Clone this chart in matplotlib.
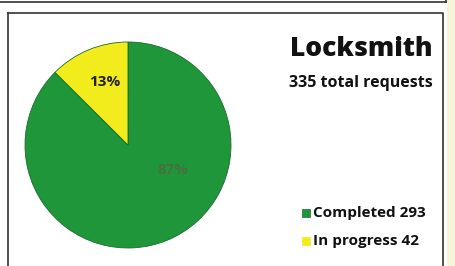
import matplotlib
matplotlib.use("Agg")
import matplotlib.pyplot as plt
from matplotlib.lines import Line2D
from matplotlib.patches import Rectangle

# data
categories = ["Completed", "In progress"]
counts = [293, 42]
colors = ["#20963a", "#f2ec1c"]
title = "Locksmith"
subtitle = f"{sum(counts)} total requests"

W, H = 455, 266
FONT = "Open Sans"
fig = plt.figure(figsize=(W / 100, H / 100), dpi=100)
fig.patch.set_facecolor("white")

# scanned page frame
fig.add_artist(Rectangle((447 / W, 0), 8 / W, 1, transform=fig.transFigure,
                         facecolor="#f6f5d8", edgecolor="none"))
fig.add_artist(Line2D([0, 446 / W], [1 - 2 / H, 1 - 2 / H], transform=fig.transFigure,
                      color="#333333", lw=1.2))
fig.add_artist(Line2D([446 / W, 446 / W], [1 - 2 / H, 1], transform=fig.transFigure,
                      color="#333333", lw=1.2))
fig.add_artist(Line2D([8 / W, 443 / W, 443 / W], [1 - 13 / H, 1 - 13 / H, 0],
                      transform=fig.transFigure, color="#333333", lw=1.2))
fig.add_artist(Line2D([8 / W, 8 / W], [1 - 13 / H, 0], transform=fig.transFigure,
                      color="#333333", lw=1.2))

# pie
ax = fig.add_axes([25 / W, 18 / H, 206 / W, 206 / H])
wedges, texts, autotexts = ax.pie(
    counts, colors=colors, startangle=90, counterclock=False,
    autopct="%1.0f%%", pctdistance=0.65,
    wedgeprops=dict(edgecolor="#1b6b2c", linewidth=0.6),
    textprops=dict(family=FONT, fontweight="bold", fontsize=11),
)
autotexts[0].set_position((0.44, -0.24))
autotexts[0].set_color("#46703f")
autotexts[1].set_position((-0.23, 0.61))
autotexts[1].set_color("#222222")
ax.set_xlim(-1, 1)
ax.set_ylim(-1, 1)
ax.set_aspect("equal")
ax.axis("off")

# titles
fig.text(433 / W, 1 - 49 / H, title, ha="right", va="center",
         family=FONT, fontweight="heavy", fontsize=19, color="#111111")
fig.text(433 / W, 1 - 83 / H, subtitle, ha="right", va="center",
         family=FONT, fontweight="bold", fontsize=11.5, color="#111111")

# legend
for i, (cat, n, c) in enumerate(zip(categories, counts, colors)):
    y = 1 - (213 + 28 * i) / H
    fig.add_artist(Rectangle((302 / W, y - 4 / H), 8 / W, 8 / H, transform=fig.transFigure,
                             facecolor=c, edgecolor="#1b6b2c" if i == 0 else c, lw=0.5))
    fig.text(313 / W, y, f"{cat} {n}", ha="left", va="center",
             family=FONT, fontweight="bold", fontsize=11, color="#111111")

fig.savefig("out.png", dpi=100)
